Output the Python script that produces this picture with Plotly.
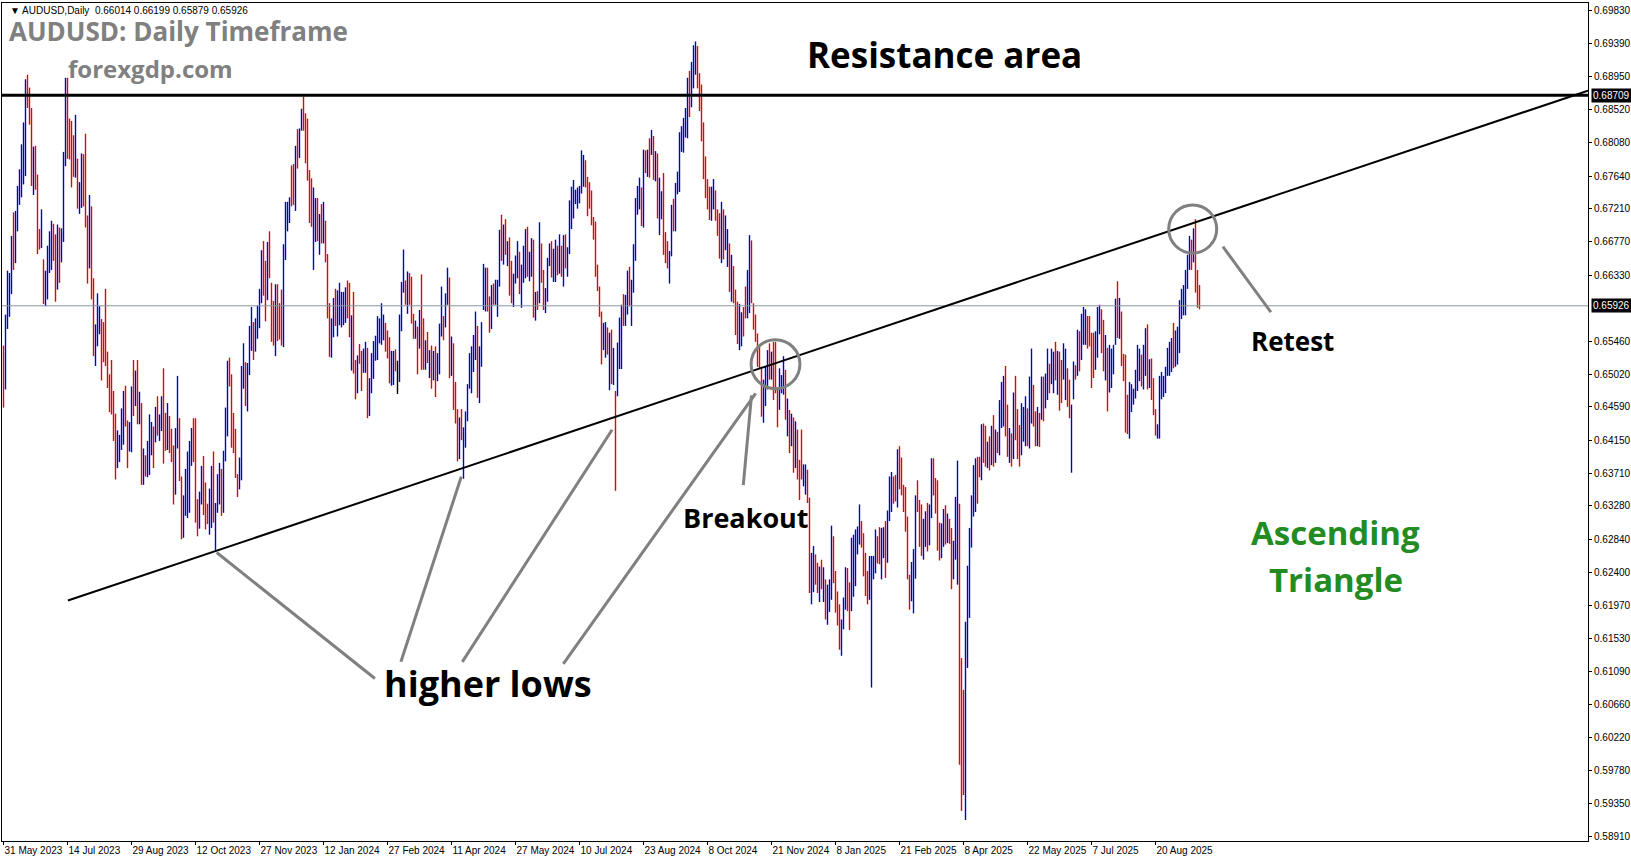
import pandas as pd
import plotly.graph_objects as go

# ---------------- data (prices in pips, i.e. price * 10000) ----------------
high_2023 = [6540,6581,6639,6636,6685,6716,6718,6751,6773,6806,6835,6892,6898,6881,6854,6803,6804,6766,6694,6720,6654,6639,6672,6691,6705,6701,6687,6700,6696,6695,6796,6894,6894,6840,6837,6818,6845,6787,6756,6794,6793,6820,6712,6739,6724,6629,6568,6609,6592,
             6575,6571,6615,6532,6502,6521,6480,6450,6428,6422,6457,6480,6487,6441,6439,6486,6521,6507,6521,6479,6464,6404,6395,6414,6449,6439,6433,6459,6473,6449,6473,6510,6451,6464,6447,6430,6408,6431,6500,6444,6367,6342,6377,6400,6414,6431,6444,6444,
             6337,6347,6381,6394,6359,6331,6351,6381,6400,6332,6370,6385,6377,6401,6458,6520,6524,6502,6451,6430,6370,6392,6513,6543,6518,6517,6566,6591,6571,6576,6593,6615,6666,6678,6652,6677,6691,6623,6599,6621,6621,6596,6614,6674,6730,6730,6736,6778,6780,
             6804,6826,6827,6853,6869,6847]
low_2023 = [6458,6482,6562,6578,6608,6640,6649,6691,6726,6736,6753,6764,6854,6832,6751,6739,6746,6661,6667,6669,6595,6592,6601,6636,6640,6652,6598,6614,6623,6650,6677,6777,6787,6786,6749,6763,6762,6721,6714,6722,6724,6696,6622,6642,6601,6526,6513,6539,6555,
            6494,6518,6513,6484,6452,6449,6414,6363,6378,6386,6402,6409,6433,6378,6400,6399,6447,6460,6436,6436,6356,6356,6367,6366,6369,6395,6378,6412,6421,6414,6427,6384,6401,6402,6398,6386,6330,6343,6404,6361,6284,6286,6315,6312,6319,6381,6386,6306,
            6288,6298,6330,6316,6297,6304,6290,6299,6306,6270,6319,6330,6315,6319,6387,6420,6486,6405,6398,6365,6340,6350,6362,6483,6460,6453,6501,6533,6521,6532,6549,6563,6596,6606,6572,6600,6629,6545,6540,6526,6546,6548,6540,6538,6653,6691,6702,6724,6726,
            6718,6774,6788,6824,6824,6781]
dir_2023 = ("RBBBBRBBBBBBRRRBRRRBRBBBBRRBRBBBRRRRBRBBRRRBRRBBB"
            "RRRRRRRRBBBBRRBBRBRBRBRBBBRBRBBRRBRRRBBRRBBBBBRR"
            "RBBRRRBBRBBBRBBBRRRRRBBBRBBBRBBBBRRBRRRBRRRBBBBRR"
            "BRBBRR")

high_2024 = [6840,6772,6761,6749,6735,6735,6714,6727,6730,6705,6661,6596,6576,6603,6615,6613,6623,6611,6611,6617,6626,6623,6580,6611,6521,6527,6542,6533,6536,6545,6537,6497,6530,6546,6553,6579,6576,6596,6581,6570,6560,6551,6533,
             6533,6535,6520,6581,6624,6667,6626,6638,6636,6631,6582,6573,6565,6587,6634,6576,6547,6558,6534,6540,6533,6539,6530,6569,6618,6579,6609,6643,6630,6552,6543,6492,6456,6445,6456,6432,6453,6489,6530,6539,6554,6585,6566,6539,6571,6648,6643,6643,6605,
             6620,6622,6627,6627,6693,6713,6700,6707,6678,6683,6652,6635,6659,6678,6664,6647,6672,6694,6697,6664,6682,6680,6611,6612,6703,6675,6640,6616,6656,6675,6678,6668,6680,6672,6687,6672,6686,6687,6670,6732,6750,6759,6746,6749,6751,6798,6792,6785,6763,
             6756,6745,6710,6704,6647,6618,6585,6570,6571,6564,6557,6561,6537,6480,6544,6577,6594,6608,6607,6639,6644,6627,6674,6735,6751,6762,6749,6799,6798,6799,6814,6825,6817,6797,6794,6762,6744,6768,6690,6678,6665,6726,6734,6755,6770,6822,6830,6841,6854,6894,
             6903,6915,6937,6942,6936,6900,6885,6835,6790,6760,6750,6750,6760,6745,6720,6715,6730,6720,6712,6694,6675,6660,6645,6614,6598,6595,6584,6591,6618,6640,6686,6679,6596,6581,6556,6539,6512,6495,6512,6534,6543,6532,6545,6545,6482,6510,6501,6526,6508,
             6470,6455,6450,6445,6440,6429,6389,6429,6383,6383,6376,6339,6266,6275,6264,6253,6248,6257,6247,6231]
low_2024 = [6758,6702,6697,6640,6677,6678,6660,6675,6675,6650,6576,6525,6524,6551,6566,6552,6567,6564,6567,6570,6576,6551,6507,6503,6469,6477,6516,6480,6504,6504,6444,6447,6477,6496,6520,6521,6543,6541,6547,6532,6523,6490,6487,
            6488,6506,6476,6492,6559,6610,6594,6582,6594,6569,6549,6549,6502,6536,6508,6508,6508,6517,6497,6483,6494,6472,6493,6502,6552,6547,6564,6594,6497,6500,6455,6437,6387,6390,6415,6364,6405,6440,6483,6477,6505,6521,6471,6464,6512,6587,6585,6585,6557,
            6562,6594,6594,6578,6618,6652,6647,6660,6645,6606,6596,6591,6622,6629,6608,6590,6623,6629,6631,6625,6631,6577,6573,6587,6596,6623,6587,6583,6598,6645,6630,6624,6624,6633,6635,6631,6618,6642,6631,6661,6694,6708,6727,6721,6728,6741,6750,6749,6711,
            6721,6699,6680,6631,6612,6578,6515,6534,6524,6528,6481,6489,6488,6348,6473,6509,6509,6566,6566,6581,6592,6566,6610,6652,6713,6720,6698,6696,6768,6763,6762,6792,6759,6757,6708,6686,6707,6660,6649,6642,6622,6658,6691,6691,6740,6743,6796,6795,6815,6814,
            6842,6855,6880,6898,6880,6850,6810,6760,6735,6720,6706,6705,6720,6705,6685,6655,6649,6654,6666,6644,6611,6598,6596,6554,6542,6534,6539,6552,6576,6576,6583,6596,6561,6545,6512,6510,6446,6438,6460,6482,6495,6495,6468,6477,6432,6455,6477,6475,6442,
            6420,6398,6407,6372,6378,6363,6336,6363,6354,6343,6332,6213,6198,6214,6224,6213,6201,6218,6201,6178]
dir_2024 = ("RRRBBRBRBRRRBBRBBBBBRRBRRBRRBBRBBBBBBBBRRRB"
            "BRNBBBRBRRRBRBRRBRBRBRBBBRBBRBRRRBRBBBBBBBRBBBBRR"
            "BRBBBRBRBRRBBBRBBBRBBRBRBRRBBBRBBRBRBRBBBBBBBBBRR"
            "RRRRRRRBBRBRBRBBBRBBRBBBBBRBRBRBRBRBBRRRBBRBBBBBBB"
            "RBBBRRRRRRRBBRRRBRBBRBRRRBBRRBBRRRRRRBBBRBRRRBBBR"
            "BRBRBRRRBBRRBBRRBRBR")

high_2025 = [6224,6231,6302,6288,6242,6215,6198,6178,6207,6247,6246,6227,6286,6290,6297,6301,6330,6308,6292,6266,6242,6262,6262,6262,6297,6288,6300,6299,6300,
             6308,6322,6367,6373,6367,6369,6403,6407,6392,6356,6353,6314,6237,6254,6271,6342,6362,6336,6330,6311,6321,6332,6330,6391,6391,6365,6362,6306,6305,6324,6329,6318,6311,6299,6282,6340,6388,6331,6127,6085,6175,6249,6299,6342,6382,6391,6393,6393,6436,
             6437,6434,6413,6420,6434,6448,6429,6426,6468,6492,6500,6513,6462,6431,6424,6478,6500,6456,6435,6464,6459,6473,6457,6499,6536,6488,6453,6459,6451,6499,6499,6503,6536,6516,6536,6532,6545,6533,6532,6521,6543,6536,6510,6495,6462,6519,6514,6561,6559,
             6582,6591,6588,6579,6579,6557,6557,6559,6591,6594,6588,6574,6554,6537,6541,6536,6541,6602,6625,6603,6585,6529,6528,6475,6492,6489,6483,6508,6541,6536,6528,6541,6563,6568,6522,6523,6497,6456,6436,6500,6505,6500,6512,6537,
             6545,6550,6570,6560,6565,6600,6615,6620,6640,6660,6685,6680,6695,6707,6640,6620]
low_2025 = [6171,6188,6204,6226,6187,6170,6138,6130,6165,6191,6189,6164,6189,6208,6222,6264,6277,6273,6235,6209,6198,6204,6088,6231,6239,6252,6251,6231,6259,
            6233,6253,6308,6320,6331,6334,6326,6350,6342,6320,6294,6231,6191,6202,6186,6232,6320,6274,6262,6257,6274,6268,6276,6312,6342,6318,6269,6256,6259,6274,6277,6279,6278,6218,6231,6257,6224,5986,5925,5946,5913,6114,6180,6273,6314,6320,6331,6366,6362,
            6385,6380,6378,6375,6382,6380,6385,6398,6395,6431,6433,6420,6393,6385,6380,6390,6415,6390,6380,6395,6413,6407,6407,6404,6437,6433,6407,6407,6406,6442,6440,6457,6468,6477,6489,6477,6494,6475,6454,6464,6495,6468,6459,6444,6372,6469,6495,6500,6506,
            6521,6541,6541,6536,6539,6484,6497,6508,6524,6555,6530,6506,6494,6453,6478,6484,6502,6541,6550,6549,6513,6493,6425,6423,6417,6452,6462,6470,6480,6493,6486,6482,6500,6482,6484,6468,6448,6421,6417,6417,6469,6472,6477,6500,
            6500,6505,6510,6512,6515,6530,6575,6580,6580,6615,6640,6640,6650,6610,6590,6588]
dir_2025 = ("BBBRRRRBBBRRBBBBBRRRRBBBBRRBB"
            "RBBBRRBRRRRRRBBBRRRBBRBBRRRRBBRBRRBBBRRRBBBBBBRRB"
            "RRBRBRBRBBBRRBRBRRRBBBRBBRRBRBRBBRBBRBRRBBRRBBRBR"
            "BBBRRRRBBBRRBRBBBBRBRRRRBBBBBBRBBRBRRRBBBBBB"
            "BBRBBBBBBBBRBRRR")

tick_dates = ["2023-05-31", "2023-07-14", "2023-08-29", "2023-10-12", "2023-11-27",
              "2024-01-12", "2024-02-27", "2024-04-11", "2024-05-27", "2024-07-10",
              "2024-08-23", "2024-10-08", "2024-11-21", "2025-01-08", "2025-02-21",
              "2025-04-08", "2025-05-22", "2025-07-07", "2025-08-20"]
tick_labels = ["31 May 2023", "14 Jul 2023", "29 Aug 2023", "12 Oct 2023", "27 Nov 2023",
               "12 Jan 2024", "27 Feb 2024", "11 Apr 2024", "27 May 2024", "10 Jul 2024",
               "23 Aug 2024", "8 Oct 2024", "21 Nov 2024", "8 Jan 2025", "21 Feb 2025",
               "8 Apr 2025", "22 May 2025", "7 Jul 2025", "20 Aug 2025"]
price_ticks = [0.69830, 0.69390, 0.68950, 0.68520, 0.68080, 0.67640, 0.67210, 0.66770,
               0.66330, 0.65460, 0.65020, 0.64590, 0.64150, 0.63710, 0.63280, 0.62840,
               0.62400, 0.61970, 0.61530, 0.61090, 0.60660, 0.60220, 0.59780, 0.59350, 0.58910]
resistance_level = 0.68709
last_price = 0.65926
last_ohlc = (0.66014, 0.66199, 0.65879, 0.65926)

# ---------------- build series ----------------
highs = [v / 10000 for v in high_2023 + high_2024 + high_2025]
lows = [v / 10000 for v in low_2023 + low_2024 + low_2025]
dirs = dir_2023 + dir_2024 + dir_2025
n = len(highs)

# broker daily bars: weekdays, no bar on 25 Dec and 1 Jan
days = [d for d in pd.bdate_range("2023-05-31", periods=n + 20)
        if not ((d.month == 12 and d.day == 25) or (d.month == 1 and d.day == 1))][:n]
day_str = [d.strftime("%Y-%m-%d") for d in days]
pos = list(range(n))

BLUE = "#0000CD"
RED = "#E60000"
BAR_W = 1.4

norm = [i for i in pos if dirs[i] != "N"]
doji = [i for i in pos if dirs[i] == "N"]

def o_of(i):
    return lows[i] if dirs[i] == "B" else highs[i]

def c_of(i):
    return highs[i] if dirs[i] == "B" else lows[i]

fig = go.Figure()
fig.add_trace(go.Ohlc(
    x=[pos[i] for i in norm],
    open=[o_of(i) for i in norm], high=[highs[i] for i in norm],
    low=[lows[i] for i in norm], close=[c_of(i) for i in norm],
    text=[day_str[i] for i in norm],
    increasing=dict(line=dict(color=BLUE, width=BAR_W)),
    decreasing=dict(line=dict(color=RED, width=BAR_W)),
    tickwidth=0, showlegend=False, hoverinfo="x+y+text"))
fig.add_trace(go.Ohlc(
    x=[pos[i] for i in doji],
    open=[(highs[i] + lows[i]) / 2 for i in doji], high=[highs[i] for i in doji],
    low=[lows[i] for i in doji], close=[(highs[i] + lows[i]) / 2 for i in doji],
    increasing=dict(line=dict(color="black", width=BAR_W)),
    decreasing=dict(line=dict(color="black", width=BAR_W)),
    tickwidth=0, showlegend=False))

tickvals = [day_str.index(d) for d in tick_dates]

AXFONT = dict(family="Liberation Sans", size=10, color="black")
fig.update_layout(
    width=1631, height=861,
    margin=dict(l=2, r=43, t=3, b=20, autoexpand=False),
    paper_bgcolor="white", plot_bgcolor="white",
    font=AXFONT,
    xaxis=dict(range=[-0.75, 792.25], tickvals=tickvals, ticktext=tick_labels,
               tickangle=0, ticks="outside", ticklen=3, tickcolor="black",
               ticklabelposition="outside right", automargin=False,
               showgrid=False, zeroline=False, showline=True, linecolor="black",
               linewidth=1, mirror=True, rangeslider=dict(visible=False),
               tickfont=AXFONT),
    yaxis=dict(range=[0.58852, 0.69928], side="right", tickvals=price_ticks,
               ticktext=[f"{v:.5f}" for v in price_ticks], automargin=False,
               ticks="outside", ticklen=3, tickcolor="black",
               showgrid=False, zeroline=False, showline=True, linecolor="black",
               linewidth=1, mirror=True, tickfont=AXFONT),
    hovermode="closest",
)

# horizontal lines
fig.add_shape(type="line", xref="paper", x0=0, x1=1, yref="y",
              y0=last_price, y1=last_price, line=dict(color="#8A94A0", width=1))
fig.add_shape(type="line", xref="paper", x0=0, x1=1, yref="y",
              y0=resistance_level, y1=resistance_level, line=dict(color="black", width=3))

# ascending trend line
fig.add_shape(type="line", xref="x", yref="y", x0=32.2, y0=0.6203, x1=792.25, y1=0.6877,
              line=dict(color="black", width=2))

GRAY = "#808080"
# circles
fig.add_shape(type="circle", xref="x", yref="y", x0=386 - 12.2, x1=386 + 12.2,
              y0=0.65154 - 0.00324, y1=0.65154 + 0.00324, line=dict(color=GRAY, width=3))
fig.add_shape(type="circle", xref="x", yref="y", x0=594.6 - 12.0, x1=594.6 + 12.0,
              y0=0.66941 - 0.00317, y1=0.66941 + 0.00317, line=dict(color=GRAY, width=3))

# pointer lines
pointers = [
    (185.7, 0.61000, 106.6, 0.62665),
    (198.7, 0.61220, 228.9, 0.63668),
    (229.4, 0.61220, 304.3, 0.64287),
    (279.9, 0.61193, 376.1, 0.64769),
    (369.9, 0.63557, 374.0, 0.64741),
    (633.7, 0.65841, 609.7, 0.66708),
]
for x0, y0, x1, y1 in pointers:
    fig.add_shape(type="line", xref="x", yref="y", x0=x0, y0=y0, x1=x1, y1=y1,
                  line=dict(color=GRAY, width=3))

# price labels on the axis
for lvl in (resistance_level, last_price):
    fig.add_annotation(x=1, xref="paper", xanchor="left", xshift=3, y=lvl, yref="y",
                       text=f"{lvl:.5f}", showarrow=False, bgcolor="black",
                       font=dict(family="Liberation Sans", size=10, color="white"), borderpad=1)

BOLD = "Open Sans"
texts = [
    ("\u25BC AUDUSD,Daily  %.5f %.5f %.5f %.5f" % last_ohlc, 0.0038, 0.9915, "left",
     dict(family="Liberation Sans", size=10, color="black")),
    ("<b>AUDUSD: Daily Timeframe</b>", 0.0032, 0.9660, "left", dict(family=BOLD, size=26, color="#808080")),
    ("<b>forexgdp.com</b>", 0.0405, 0.9224, "left", dict(family=BOLD, size=24, color="#808080")),
    ("<b>Resistance area</b>", 0.5060, 0.9391, "left", dict(family=BOLD, size=35, color="black")),
    ("<b>Retest</b>", 0.7863, 0.5967, "left", dict(family=BOLD, size=26, color="black")),
    ("<b>Breakout</b>", 0.4280, 0.3866, "left", dict(family=BOLD, size=27, color="black")),
    ("<b>higher lows</b>", 0.2395, 0.1874, "left", dict(family=BOLD, size=36, color="black")),
    ("<b>Ascending</b>", 0.8411, 0.3687, "center", dict(family=BOLD, size=33, color="#228B22")),
    ("<b>Triangle</b>", 0.8411, 0.3115, "center", dict(family=BOLD, size=33, color="#228B22")),
]
for t, x, y, anc, f in texts:
    fig.add_annotation(text=t, x=x, y=y, xref="paper", yref="paper", xanchor=anc,
                       yanchor="middle", showarrow=False, font=f)

fig.write_html("out.html", config={"displayModeBar": False},
               post_script="document.body.style.margin='0px';")
